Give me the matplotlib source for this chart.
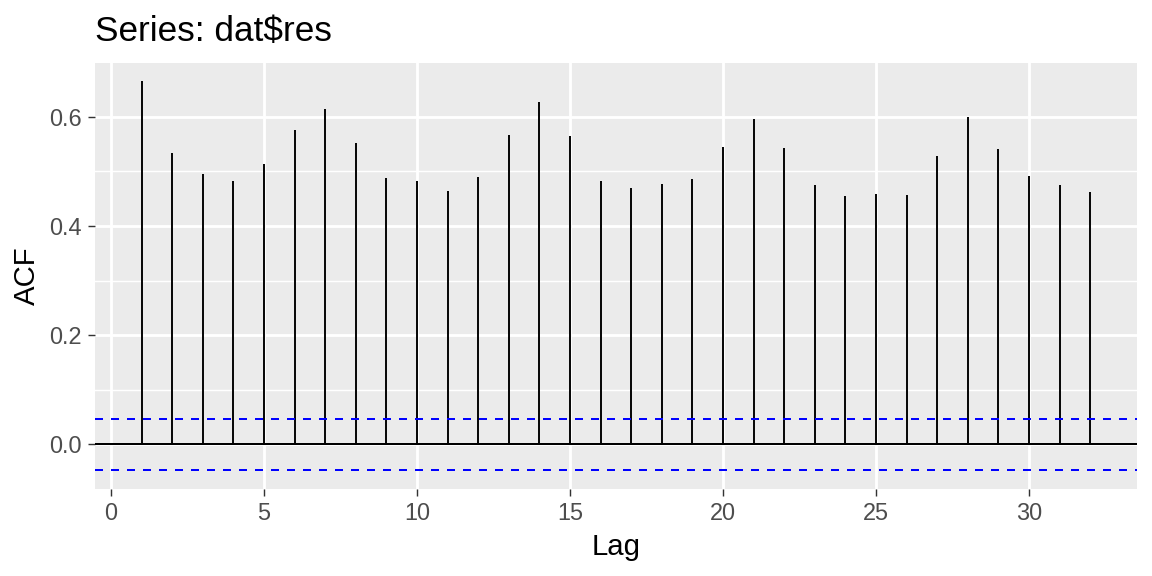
import matplotlib
matplotlib.use("Agg")
import matplotlib.pyplot as plt

# ACF values
lags = list(range(1, 33))
acf = [0.665, 0.533, 0.495, 0.482, 0.513, 0.576, 0.614, 0.552, 0.488, 0.482,
       0.464, 0.489, 0.566, 0.627, 0.565, 0.482, 0.469, 0.477, 0.486, 0.545,
       0.596, 0.543, 0.475, 0.455, 0.459, 0.457, 0.528, 0.599, 0.541, 0.491,
       0.475, 0.462]
ci = 0.0465

plt.rcParams['font.family'] = ['Liberation Sans', 'DejaVu Sans']
plt.rcParams['lines.scale_dashes'] = False

fig = plt.figure(figsize=(6, 3), dpi=192)
ax = fig.add_axes([95/1152, 1 - 489/576, (1137 - 95)/1152, (489 - 63)/576])
ax.set_facecolor('#EBEBEB')
for s in ax.spines.values():
    s.set_visible(False)

ax.set_xlim(-0.52, 33.53)
ax.set_ylim(-0.0815, 0.698)

# grid
for y in [0.1, 0.3, 0.5]:
    ax.axhline(y, color='white', lw=0.53, zorder=0)
for y in [0.0, 0.2, 0.4, 0.6]:
    ax.axhline(y, color='white', lw=1.07, zorder=0)
for x in [0, 5, 10, 15, 20, 25, 30]:
    ax.axvline(x, color='white', lw=1.07, zorder=0)

ax.vlines(lags, 0, acf, color='black', lw=0.72, zorder=2)
ax.axhline(0, color='black', lw=0.75, zorder=2)
ax.axhline(ci, color='blue', lw=0.75, ls=(0, (3, 3)), zorder=3)
ax.axhline(-ci, color='blue', lw=0.75, ls=(0, (3, 3)), zorder=3)

ax.set_xticks([0, 5, 10, 15, 20, 25, 30])
ax.set_yticks([0.0, 0.2, 0.4, 0.6])
ax.set_yticklabels(['0.0', '0.2', '0.4', '0.6'])
ax.tick_params(colors='#333333', labelcolor='#4D4D4D', labelsize=8.8,
               length=2.75, width=0.53, pad=2.2)

ax.set_xlabel('Lag', fontsize=11, color='black', labelpad=3)
ax.set_ylabel('ACF', fontsize=11, color='black', labelpad=3)

fig.text(95/1152, 1 - 41/576, 'Series: dat$res', fontsize=13.2,
         color='black', va='baseline', ha='left')

fig.savefig('out.png', dpi=192)
